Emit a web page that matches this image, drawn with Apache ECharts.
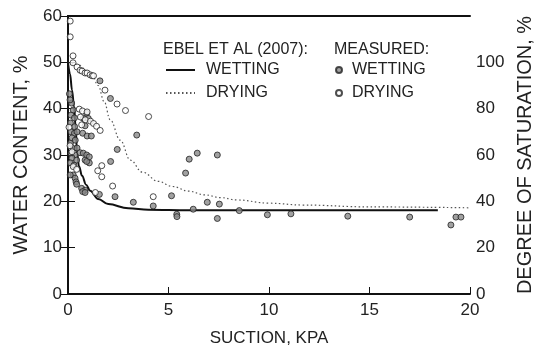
<!DOCTYPE html>
<html>
<head>
<meta charset="utf-8">
<script src="https://cdn.jsdelivr.net/npm/echarts@6/dist/echarts.min.js"></script>
<style>html,body{margin:0;padding:0;background:#fff;}#c{width:535px;height:353px;}</style>
</head>
<body>
<div id="c"></div>
<script>
// Model curves (Ebel et al 2007): [suction kPa, water content %]
const ebelWetting = [[0,50],[0.1,47.5],[0.2,44],[0.3,40.5],[0.38,36],[0.45,30.5],[0.55,27.5],[0.7,25.5],[0.9,23.6],[1.1,22.3],[1.5,20.5],[2,19.4],[3,18.5],[4,18.2],[6,18.1],[10,18.1],[18.4,18.1]];
const ebelDrying = [[0,50],[0.5,49.5],[1,48],[1.2,47.2],[1.5,45],[1.8,41.5],[2.1,37.6],[2.6,33.2],[3.1,28.9],[3.7,26.3],[4.5,24.3],[5.2,23.2],[6,22.2],[6.8,21.4],[7.6,20.8],[8.4,20.3],[10,19.6],[11.7,19.2],[15,18.8],[20,18.6]];

// Measured points
const measWetting = [[1.59,46.0],[2.11,42.2],[3.42,34.3],[2.45,31.2],[2.12,28.6],[6.03,29.1],[6.43,30.4],[7.43,30.0],[5.85,26.1],[2.34,21.0],[5.15,21.2],[3.25,19.8],[4.24,19.0],[6.93,19.8],[7.53,19.4],[5.41,17.2],[5.42,16.7],[6.23,18.3],[7.43,16.3],[8.52,18.0],[9.92,17.1],[11.09,17.3],[13.92,16.8],[17.0,16.6],[19.05,14.9],[19.3,16.6],[19.55,16.6],
 [0.18,41.2],[0.26,39.7],[0.1,41.9],[0.07,43.2],[0.15,38.6],[0.32,38.0],[0.12,36.9],[0.33,36.1],[0.15,35.0],[0.32,34.7],[0.45,35.0],[0.2,33.7],[0.36,33.2],[0.12,32.5],[0.26,31.4],[0.45,31.5],[0.15,30.4],[0.35,30.0],[0.2,29.3],[0.43,28.9],[0.12,28.3],[0.3,27.8],
 [0.93,39.0],[0.76,37.9],[1.01,37.9],[0.85,36.3],[0.73,34.7],[0.95,34.1],[1.16,34.1],[0.6,30.5],[0.76,30.4],[0.93,30.0],[1.06,29.6],[0.85,28.9],[1.06,28.3],[0.93,28.6],
 [0.26,25.7],[0.35,25.0],[0.4,24.2],[0.43,23.7],[0.11,25.7],[0.68,22.8],[0.85,22.4],[0.73,22.1],[0.85,21.9],[1.56,21.5]];
const measDrying = [[0.11,58.9],[0.11,55.5],[0.25,51.4],[0.25,49.9],[0.45,49.0],[0.6,48.3],[0.7,48.1],[0.85,47.7],[0.95,47.7],[1.1,47.3],[1.2,47.1],[1.27,47.1],[1.84,44.0],[2.44,41.0],[2.86,39.6],[4.01,38.3],
 [0.56,39.9],[0.72,39.5],[0.95,39.3],[0.62,38.2],[0.86,37.6],[1.12,37.3],[1.27,36.8],[1.42,36.2],[1.6,35.3],[0.68,36.5],[0.2,30.7],[0.26,27.5],[0.43,26.9],[1.68,27.7],[1.48,26.6],[1.68,25.3],[2.22,23.3],[4.24,21.0],[1.36,21.9],[0.05,36],[0.1,32]];

const xTicks = [0,5,10,15,20];
const yTicksLeft = [0,10,20,30,40,50,60];
const yTicksRight = [0,20,40,60,80,100];

const FONT = 'Liberation Sans';
const TXT = '#222';
const labelMap = {'Ebel wetting':'WETTING','Ebel drying':'DRYING','Measured wetting':'WETTING','Measured drying':'DRYING'};

const chart = echarts.init(document.getElementById('c'), null, {renderer:'canvas'});
chart.setOption({
  animation:false,
  backgroundColor:'#fff',
  textStyle:{fontFamily:FONT,color:TXT},
  grid:{left:68,right:65,top:16,bottom:59,containLabel:false,outerBoundsMode:'none'},
  graphic:[
    {type:'text',left:163,top:42,style:{text:'EBEL ET AL (2007):',font:'16px '+FONT,fill:TXT}},
    {type:'text',left:334,top:42,style:{text:'MEASURED:',font:'16px '+FONT,fill:TXT}}
  ],
  legend:[
    {data:['Ebel wetting','Ebel drying'],orient:'vertical',left:165,top:62,itemWidth:29,itemHeight:14,itemGap:7,padding:0,
     itemStyle:{opacity:0},
     formatter:n=>labelMap[n],textStyle:{fontSize:16,color:TXT,fontFamily:FONT,padding:[0,0,0,6]}},
    {data:['Measured wetting','Measured drying'],orient:'vertical',left:335,top:62,itemWidth:6,itemHeight:14,itemGap:7,padding:0,
     formatter:n=>labelMap[n],textStyle:{fontSize:16,color:TXT,fontFamily:FONT,padding:[0,0,0,5]}}
  ],
  xAxis:[
    {type:'value',min:0,max:20,interval:5,position:'bottom',
     name:'SUCTION, KPA',nameLocation:'middle',nameGap:36,nameTextStyle:{fontSize:17,color:TXT,fontFamily:FONT},
     axisLine:{show:true,lineStyle:{color:'#111',width:2}},
     axisTick:{show:true,inside:true,length:7,lineStyle:{color:'#111',width:1}},
     axisLabel:{fontSize:17,color:TXT,margin:8,fontFamily:FONT,formatter:v=>xTicks.includes(v)?String(v):''},
     splitLine:{show:false}},
    {type:'value',min:0,max:20,position:'top',
     axisLine:{show:true,onZero:false,lineStyle:{color:'#111',width:2}},axisTick:{show:false},axisLabel:{show:false},splitLine:{show:false}}
  ],
  yAxis:[
    {type:'value',min:0,max:60,interval:10,position:'left',
     name:'WATER CONTENT, %',nameLocation:'middle',nameGap:37,nameRotate:90,nameTextStyle:{fontSize:20,color:TXT,fontFamily:FONT},
     axisLine:{show:true,lineStyle:{color:'#111',width:2}},
     axisTick:{show:true,inside:true,length:7,lineStyle:{color:'#111',width:1}},
     axisLabel:{fontSize:17,color:TXT,margin:6,fontFamily:FONT,formatter:v=>yTicksLeft.includes(v)?String(v):''},
     splitLine:{show:false}},
    {type:'value',min:0,max:120,interval:20,position:'right',
     name:'DEGREE OF SATURATION, %',nameLocation:'middle',nameGap:38,nameRotate:90,nameTextStyle:{fontSize:20,color:TXT,fontFamily:FONT},
     axisLine:{show:true,lineStyle:{color:'#111',width:2}},
     axisTick:{show:true,inside:true,length:7,lineStyle:{color:'#111',width:1}},
     axisLabel:{fontSize:17,color:TXT,margin:6,fontFamily:FONT,formatter:v=>yTicksRight.includes(v)?String(v):''},
     splitLine:{show:false}}
  ],
  series:[
    {name:'Ebel drying',type:'line',data:ebelDrying,symbol:'none',smooth:0.4,smoothMonotone:'x',
     lineStyle:{color:'#555',width:1.2,type:[1.5,2.5]},itemStyle:{color:'#555'},z:2},
    {name:'Ebel wetting',type:'line',data:ebelWetting,symbol:'none',smooth:0.4,smoothMonotone:'x',
     lineStyle:{color:'#111',width:2},itemStyle:{color:'#111'},z:2},
    {name:'Measured wetting',type:'scatter',data:measWetting,symbol:'circle',symbolSize:6,
     itemStyle:{color:'#8a8a8a',borderColor:'#222',borderWidth:1},z:3},
    {name:'Measured drying',type:'scatter',data:measDrying,symbol:'circle',symbolSize:6,
     itemStyle:{color:'#fff',borderColor:'#222',borderWidth:1},z:3}
  ]
});
</script>
</body>
</html>
